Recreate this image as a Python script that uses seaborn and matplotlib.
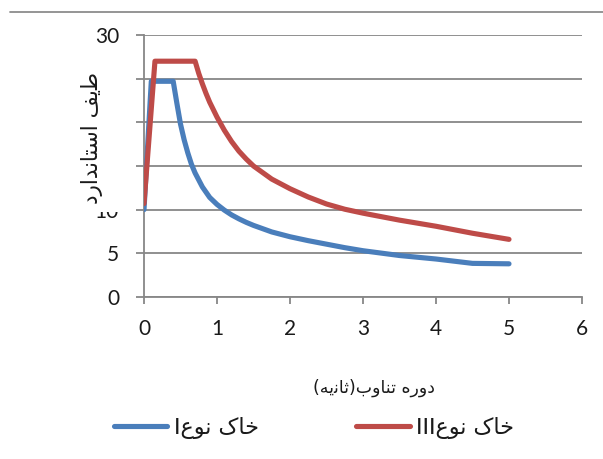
import matplotlib
matplotlib.use("Agg")
import matplotlib.pyplot as plt
from matplotlib.lines import Line2D
from matplotlib.patches import Rectangle
import pandas as pd
import seaborn as sns

# Period (s) and design spectrum values for two soil types
period_soil1 = [0.0, 0.1, 0.4, 0.45, 0.5, 0.55, 0.6, 0.65, 0.7, 0.8, 0.9, 1.0,
                1.1, 1.2, 1.3, 1.4, 1.5, 1.75, 2.0, 2.25, 2.5, 2.75, 3.0, 3.5,
                4.0, 4.5, 5.0]
spectrum_soil1 = [10.0, 24.7, 24.7, 22.2, 19.8, 18.0, 16.5, 15.2, 14.2, 12.6,
                  11.4, 10.6, 9.95, 9.4, 8.95, 8.55, 8.2, 7.45, 6.9, 6.45,
                  6.05, 5.65, 5.3, 4.75, 4.35, 3.85, 3.8]

period_soil3 = [0.0, 0.15, 0.7, 0.75, 0.8, 0.85, 0.9, 1.0, 1.1, 1.2, 1.3, 1.4,
                1.5, 1.75, 2.0, 2.25, 2.5, 2.75, 3.0, 3.5, 4.0, 4.5, 5.0]
spectrum_soil3 = [10.7, 27.0, 27.0, 25.6, 24.4, 23.3, 22.3, 20.6, 19.1, 17.8,
                  16.7, 15.8, 15.0, 13.5, 12.4, 11.45, 10.65, 10.05, 9.6,
                  8.8, 8.1, 7.3, 6.6]

# Labels written in visual order with Arabic presentation forms
series_names = ["I\uFEC9\uFEEE\uFEE7 \uFB8E\uFE8E\uFEA7",
                "III\uFEC9\uFEEE\uFEE7 \uFB8E\uFE8E\uFEA7"]
x_title = "(\uFEEA\uFBFE\uFEE7\uFE8E\uFE9B)\uFE8F\uFEED\uFE8E\uFEE8\uFE97 \uFEE9\uFEAD\uFEED\uFEA9"
y_title = "\uFEA9\uFEAD\uFE8D\uFEAA\uFEE7\uFE8E\uFE98\uFEB3\uFE8D \uFED2\uFBFE\uFEC3"

x_ticks = [0, 1, 2, 3, 4, 5, 6]
y_ticks = [0, 5, 10, 15, 20, 25, 30]
# 15, 20 and 25 sit under the axis title panel
y_tick_labels = ["0", "5", "10", "", "", "", "30"]

df = pd.concat([
    pd.DataFrame({"T": period_soil1, "B": spectrum_soil1, "soil": series_names[0]}),
    pd.DataFrame({"T": period_soil3, "B": spectrum_soil3, "soil": series_names[1]}),
], ignore_index=True)

sns.set_style("white")
plt.rcParams["font.family"] = ["Lato", "DejaVu Sans"]

W, H = 603, 459
fig = plt.figure(figsize=(W / 100, H / 100), dpi=100)
ax = fig.add_axes([144 / W, 1 - 297 / H, (582 - 144) / W, (297 - 35) / H])

blue = "#4A7EBB"
red = "#BE4B48"
grid_c = "#878787"
text_c = "#1a1a1a"

sns.lineplot(data=df, x="T", y="B", hue="soil", palette=[blue, red],
             estimator=None, sort=False, linewidth=3.7, legend=False, ax=ax,
             solid_capstyle="round", solid_joinstyle="round", zorder=3)

ax.set_xlim(0, 6)
ax.set_ylim(0, 30)
ax.set_xticks(x_ticks)
ax.set_yticks(y_ticks)
ax.set_yticklabels(y_tick_labels)
ax.set_xlabel("")
ax.set_ylabel("")

ax.yaxis.grid(True, color=grid_c, linewidth=1.3)
ax.xaxis.grid(False)
ax.set_axisbelow(True)
for s in ["top", "right"]:
    ax.spines[s].set_visible(False)
for s in ["left", "bottom"]:
    ax.spines[s].set_color(grid_c)
    ax.spines[s].set_linewidth(1.3)

ax.tick_params(axis="x", direction="out", length=5, width=1.3, color=grid_c,
               labelsize=15, pad=11, bottom=True, labelcolor=text_c)
ax.tick_params(axis="y", direction="out", length=6, width=1.3, color=grid_c,
               labelsize=15, pad=12, left=True, labelcolor=text_c)

# Y axis title on a white panel that sits over the tick labels
fig.patches.append(Rectangle((76 / W, 1 - 212 / H), (123 - 76) / W, (212 - 56) / H,
                             transform=fig.transFigure, facecolor="white",
                             edgecolor="none", zorder=2))
fig.text(92 / W, 1 - 138 / H, y_title, rotation=90, ha="center", va="center",
         fontsize=15.5, family="DejaVu Sans", color=text_c, zorder=3)

fig.text(374 / W, 1 - 388 / H, x_title, ha="center", va="center",
         fontsize=12.5, family="DejaVu Sans", color=text_c)

# Thin rule along the top of the chart area
fig.add_artist(Line2D([10 / W, 1.0], [1 - 12 / H, 1 - 12 / H],
                      transform=fig.transFigure, color="#8c8c8c", linewidth=1.3))

handles = [Line2D([], [], color=blue, linewidth=3.7, solid_capstyle="round"),
           Line2D([], [], color=red, linewidth=3.7, solid_capstyle="round")]
fig.legend(handles, series_names, loc="center", ncol=2,
           bbox_to_anchor=(314 / W, 1 - 428 / H), frameon=False,
           prop={"family": "DejaVu Sans", "size": 16}, labelcolor=text_c,
           handlelength=2.4, handletextpad=0.3, columnspacing=4.4)

fig.savefig("out.png", dpi=100)
